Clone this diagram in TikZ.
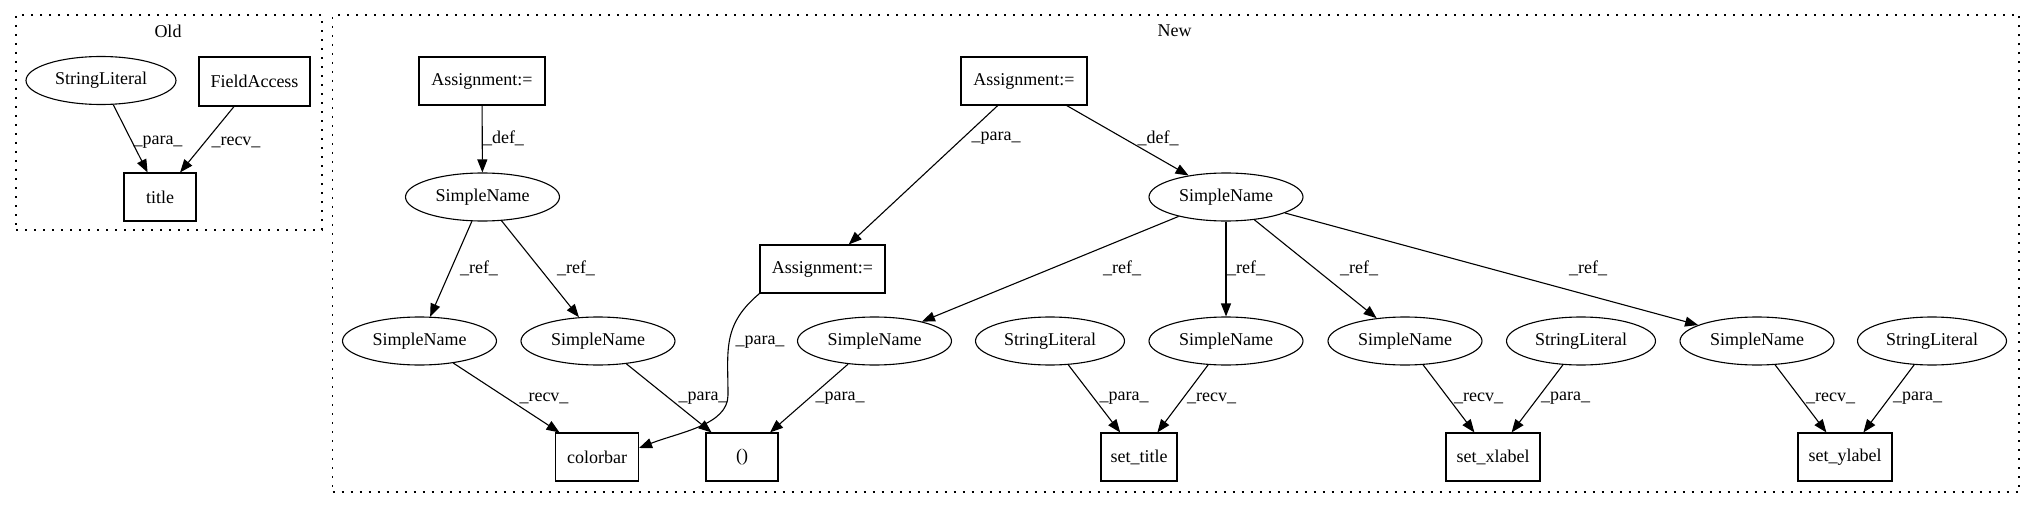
\documentclass[tikz,border=0pt]{standalone}
\usepackage{fontspec}
\setmainfont{Liberation Serif}
\usetikzlibrary{shapes.geometric,arrows.meta}
\begin{document}
\begin{tikzpicture}[x=1pt,y=-1pt,
  every node/.style={font=\fontsize{18}{20}\selectfont, inner sep=0pt},
  ell/.style={draw, ellipse, line width=1.1pt, minimum height=48pt, minimum width=154pt},
  sl/.style={ell, minimum width=149pt},
  box/.style={draw, rectangle, line width=1.1pt, minimum height=48pt},
  edge/.style={line width=1.1pt, -{Triangle[length=13pt,width=10pt]}},
  cluster/.style={draw, line width=1.2pt, dash pattern=on 2pt off 7pt},
  clabel/.style={}
]
\useasboundingbox (0,0) rectangle (2035,508);
\fill[white] (0,0) rectangle (2035,508);

% clusters
\node[cluster, minimum width=306pt, minimum height=215pt] (oldc) at (169,122.5) {};
\node[clabel] (oldlab) at (168,31) {Old};
\node[cluster, minimum width=1686.5pt, minimum height=477pt] (newc) at (1175.75,253.5) {};
\node[clabel] (newlab) at (1174.5,31) {New};

% Old
\node[sl, minimum width=150pt] (osl) at (101,80.5) {StringLiteral};
\node[box, minimum width=111pt, minimum height=49pt] (ofa) at (254.5,81.5) {FieldAccess};
\node[box, minimum width=72pt] (otitle) at (160,197) {title};
\draw[edge] (osl) -- (otitle) node[at={(158,142)}] {\_para\_};
\draw[edge] (ofa) -- (otitle) node[at={(236,142)}] {\_recv\_};

% New
\node[box, minimum width=126pt] (a1) at (482,81) {Assignment:=};
\node[ell] (sn1) at (482.5,197) {SimpleName};
\node[ell] (sna) at (419.5,341) {SimpleName};
\node[ell] (snb) at (598,341) {SimpleName};
\node[box, minimum width=83pt] (colorbar) at (597,457) {colorbar};
\node[box, minimum width=72pt] (paren) at (742,457) {()};
\node[box, minimum width=126pt] (a2) at (1024,81) {Assignment:=};
\node[box, minimum width=125pt] (a3) at (822.5,269) {Assignment:=};
\node[ell] (snc) at (874.5,341) {SimpleName};
\node[sl] (sl1) at (1050,341) {StringLiteral};
\node[ell] (sn2) at (1226,197) {SimpleName};
\node[ell] (snd) at (1226,341) {SimpleName};
\node[box, minimum width=76pt] (settitle) at (1139,457) {set\_title};
\node[ell] (sne) at (1405,341) {SimpleName};
\node[sl] (sl2) at (1581,341) {StringLiteral};
\node[box, minimum width=94pt] (setx) at (1493,457) {set\_xlabel};
\node[ell] (snf) at (1757,341) {SimpleName};
\node[sl] (sl3) at (1932,341) {StringLiteral};
\node[box, minimum width=94pt] (sety) at (1845,457) {set\_ylabel};

\draw[edge] (a1) -- (sn1) node[at={(503.5,138)}] {\_def\_};
\draw[edge] (sn1) -- (sna) node[at={(479,268)}] {\_ref\_};
\draw[edge] (sn1) -- (snb) node[at={(576,268)}] {\_ref\_};
\draw[edge] (sna) -- (colorbar) node[at={(544,398)}] {\_recv\_};
\draw[edge] (snb) -- (paren) node[at={(703,398)}] {\_para\_};
\draw[edge] (a2) -- (a3) node[at={(996,138)}] {\_para\_};
\draw[edge] (a3.south west) .. controls (722,325) and (728,350) .. (728,395)
   .. controls (728,425) and (680,432) .. (colorbar.east |- 0,448);
\node (lab-a3) at (760,342) {\_para\_};
\draw[edge] (snc) -- (paren) node[at={(840,398)}] {\_para\_};
\draw[edge] (a2) -- (sn2) node[at={(1158,138)}] {\_def\_};
\draw[edge] (sn2) -- (snc) node[at={(1122,268)}] {\_ref\_};
\draw[edge] (sn2) -- (snd) node[at={(1246,268)}] {\_ref\_};
\draw[edge] (sn2) -- (sne) node[at={(1359,268)}] {\_ref\_};
\draw[edge] (sn2) -- (snf) node[at={(1588,268)}] {\_ref\_};
\draw[edge] (sl1) -- (settitle) node[at={(1124,398)}] {\_para\_};
\draw[edge] (snd) -- (settitle) node[at={(1211.5,398)}] {\_recv\_};
\draw[edge] (sne) -- (setx) node[at={(1478.6,398)}] {\_recv\_};
\draw[edge] (sl2) -- (setx) node[at={(1565.7,398)}] {\_para\_};
\draw[edge] (snf) -- (sety) node[at={(1830.5,398)}] {\_recv\_};
\draw[edge] (sl3) -- (sety) node[at={(1917.5,398)}] {\_para\_};
\end{tikzpicture}
\end{document}
